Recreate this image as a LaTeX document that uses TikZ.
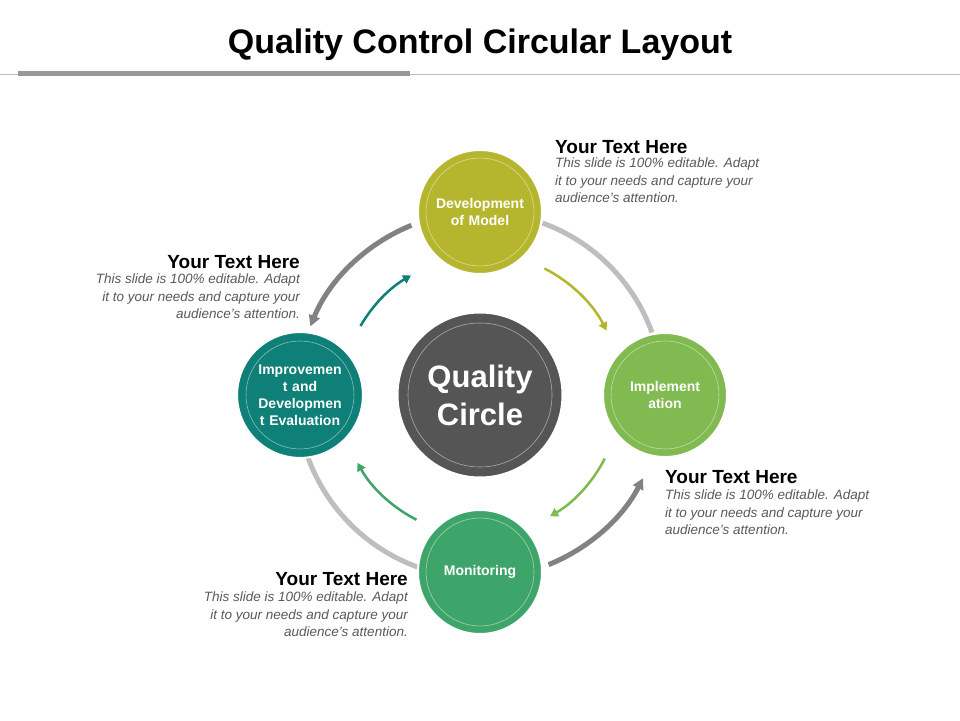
\documentclass[tikz,border=0pt]{standalone}
\usepackage{fontspec}
\setmainfont{Liberation Sans}
\usetikzlibrary{arrows.meta}
\definecolor{olive_c}{RGB}{181,182,46}
\definecolor{lime_c}{RGB}{128,186,80}
\definecolor{green_c}{RGB}{62,165,106}
\definecolor{teal_c}{RGB}{14,128,119}
\definecolor{dark_c}{RGB}{85,85,85}
\definecolor{ring_light}{RGB}{190,190,190}
\definecolor{ring_dark}{RGB}{130,130,130}
\definecolor{body_gray}{RGB}{90,90,90}
\begin{document}
\begin{tikzpicture}[x=1pt,y=1pt,>={Triangle[length=11pt,width=11pt]}]
    \tikzstyle{stage}=[circle, minimum size=124pt, draw=white, line width=2pt, text=white, font=\fontsize{14}{17}\selectfont\bfseries, align=center, text width=100pt]
    \tikzstyle{inring}=[draw=white, opacity=0.5, line width=0.6pt]
    \tikzstyle{head}=[font=\fontsize{19}{22}\selectfont\bfseries, inner sep=0pt]
    \tikzstyle{body}=[font=\fontsize{13.5}{17.5}\selectfont\itshape, text=body_gray, inner sep=0pt]
    \tikzstyle{ring}=[line width=5pt]
    \tikzstyle{turn}=[line width=2.5pt, ->, >={Triangle[length=8pt,width=9pt]}]
    \useasboundingbox (0,0) rectangle (960,720);
    \fill[white] (0,0) rectangle (960,720);

    % title
    \node[font=\fontsize{34}{40}\selectfont\bfseries] (title) at (480,675) {Quality Control Circular Layout};
    \draw[ring_light, line width=1pt] (0,645) -- (960,645);
    \draw[ring_light!80!black, line width=5pt] (18,646) -- (410,646);

    \coordinate (c) at (480,325);

    % outer ring
    \draw[ring, ring_light] (c) ++(20:183) arc[start angle=20, end angle=70, radius=183];
    \draw[ring, ring_dark, ->] (c) ++(112:183) arc[start angle=112, end angle=158, radius=183];
    \draw[ring, ring_light] (c) ++(200:183) arc[start angle=200, end angle=250, radius=183];
    \draw[ring, ring_dark, ->] (c) ++(-68:183) arc[start angle=-68, end angle=-27, radius=183];

    % inner arrows
    \draw[turn, olive_c] (c) ++(63:142) arc[start angle=63, end angle=27, radius=142];
    \draw[turn, teal_c] (c) ++(150:138) arc[start angle=150, end angle=120, radius=138];
    \draw[turn, green_c] (c) ++(243:140) arc[start angle=243, end angle=209, radius=140];
    \draw[turn, lime_c] (c) ++(-27:140) arc[start angle=-27, end angle=-60, radius=140];

    % circles
    \node[circle, fill=dark_c, draw=white, line width=3pt, minimum size=166pt] (core) at (c) {};
    \draw[inring] (c) circle (72);
    \node[text=white, font=\fontsize{31}{38}\selectfont\bfseries, align=center] at (c) {Quality\\Circle};

    \node[stage, fill=olive_c] (dev) at (480,508) {Development\\of Model};
    \node[stage, fill=lime_c] (impl) at (665,325) {Implement\\ation};
    \node[stage, fill=green_c] (mon) at (480,148) {Monitoring};
    \node[stage, fill=teal_c] (imp) at (300,325) {Improvemen\\t and\\Developmen\\t Evaluation};
    \foreach \n in {dev,impl,mon,imp}
      \draw[inring] (\n.center) circle (54);

    % text blocks
    \node[head, anchor=west] (h1) at (555,573) {Your Text Here};
    \node[body, anchor=north west, align=left] (b1) at (555,562) {This slide is 100\% editable. Adapt\\it to your needs and capture your\\audience's attention.};
    \node[head, anchor=east] (h2) at (300,458) {Your Text Here};
    \node[body, anchor=north east, align=right] (b2) at (300,446) {This slide is 100\% editable. Adapt\\it to your needs and capture your\\audience's attention.};
    \node[head, anchor=west] (h3) at (665,243) {Your Text Here};
    \node[body, anchor=north west, align=left] (b3) at (665,230) {This slide is 100\% editable. Adapt\\it to your needs and capture your\\audience's attention.};
    \node[head, anchor=east] (h4) at (408,141) {Your Text Here};
    \node[body, anchor=north east, align=right] (b4) at (408,128) {This slide is 100\% editable. Adapt\\it to your needs and capture your\\audience's attention.};
\end{tikzpicture}
\end{document}
